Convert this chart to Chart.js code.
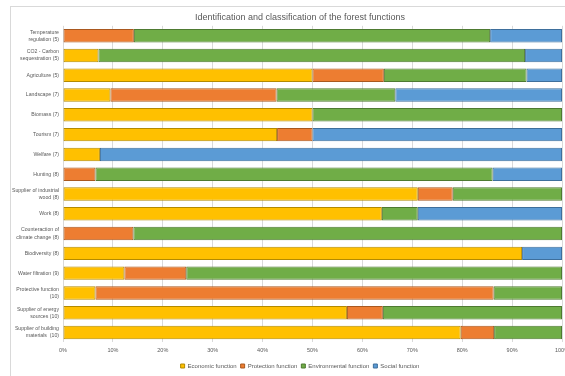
<!DOCTYPE html>
<html>
<head>
  <meta charset="utf-8">
  <title>Forest functions</title>
  <script src="https://cdn.jsdelivr.net/npm/chart.js"></script>
  <style>
    html, body {
      margin: 0;
      padding: 0;
      background: #ffffff;
      overflow: hidden;
      width: 565px;
      height: 376px;
    }
    .frame {
      position: absolute;
      left: 10px;
      top: 6px;
      width: 580px;
      height: 380px;
      border: 1px solid #d9d9d9;
      box-sizing: border-box;
    }
    .chart-box {
      position: absolute;
      left: 0;
      top: 6px;
      width: 600px;
      height: 373px;
    }
  </style>
</head>
<body>
  <div class="frame"></div>
  <div class="chart-box">
    <canvas id="barChart"></canvas>
  </div>

  <script>
    const categories = [
      ['Temperature', 'regulation (5)'],
      ['CO2 - Carbon', 'sequestration (5)'],
      'Agriculture (5)',
      'Landscape (7)',
      'Biomass (7)',
      'Tourism (7)',
      'Welfare (7)',
      'Hunting (8)',
      ['Supplier of industrial', 'wood (8)'],
      'Work (8)',
      ['Counteraction of', 'climate change (8)'],
      'Biodiversity (8)',
      'Water filtration (9)',
      ['Protective function', '(10)'],
      ['Supplier of energy', 'sources (10)'],
      ['Supplier of building', 'materials  (10)']
    ];

    const economic      = [0, 7.1, 50, 9.5, 50, 42.9, 7.4, 0, 71.1, 63.9, 0, 92, 12.3, 6.5, 56.9, 79.7];
    const protection    = [14.2, 0, 14.3, 33.3, 0, 7.1, 0, 6.5, 7, 0, 14.1, 0, 12.4, 79.8, 7.2, 6.7];
    const environmental = [71.4, 85.5, 28.6, 23.8, 50, 0, 0, 79.6, 21.9, 7.2, 85.9, 0, 75.3, 13.7, 35.9, 13.6];
    const social        = [14.4, 7.4, 7.1, 33.4, 0, 50, 92.6, 13.9, 0, 28.9, 0, 8, 0, 0, 0, 0];

    const xTicks = [0, 10, 20, 30, 40, 50, 60, 70, 80, 90, 100];

    const font = "'Liberation Sans', 'DejaVu Sans', sans-serif";
    const textColor = '#595959';

    function series(label, data, fill, border) {
      return {
        label: label,
        data: data.map(v => v === 0 ? null : v),
        backgroundColor: fill,
        borderColor: border,
        borderWidth: 1,
        borderSkipped: false,
        barPercentage: 0.68,
        categoryPercentage: 1
      };
    }

    new Chart(document.getElementById('barChart').getContext('2d'), {
      type: 'bar',
      data: {
        labels: categories,
        datasets: [
          series('Economic function', economic, '#FFC000', '#B38A00'),
          series('Protection function', protection, '#ED7D31', '#A9581F'),
          series('Environmental function', environmental, '#70AD47', '#4E7A31'),
          series('Social function', social, '#5B9BD5', '#3E6F9C')
        ]
      },
      options: {
        indexAxis: 'y',
        responsive: true,
        maintainAspectRatio: false,
        animation: false,
        layout: { padding: 0 },
        plugins: {
          title: {
            display: true,
            text: 'Identification and classification of the forest functions',
            color: textColor,
            font: { family: font, size: 9, weight: 'normal' },
            padding: { top: 6, bottom: 3 }
          },
          legend: {
            position: 'bottom',
            labels: {
              color: textColor,
              font: { family: font, size: 6 },
              boxWidth: 4,
              boxHeight: 4,
              padding: 4
            }
          },
          tooltip: { enabled: false }
        },
        scales: {
          x: {
            stacked: true,
            min: 0,
            max: 100,
            afterBuildTicks: axis => { axis.ticks = xTicks.map(v => ({ value: v })); },
            ticks: {
              color: textColor,
              font: { family: font, size: 5.5 },
              padding: 5,
              callback: v => v + '%'
            },
            grid: { color: '#d9d9d9', drawTicks: false },
            border: { display: false }
          },
          y: {
            stacked: true,
            afterFit: axis => { axis.width = 63; },
            ticks: {
              color: textColor,
              font: { family: font, size: 5.2, lineHeight: 1.35 },
              padding: 4,
              autoSkip: false
            },
            grid: { display: false, drawTicks: false, tickLength: 0 },
            border: { display: false }
          },
          // empty axis on the right only reserves room so the plot ends at x=562
          spacer: {
            type: 'linear',
            axis: 'y',
            position: 'right',
            afterFit: axis => { axis.width = 38; },
            ticks: { display: false },
            grid: { display: false },
            border: { display: false }
          }
        }
      }
    });
  </script>
</body>
</html>
